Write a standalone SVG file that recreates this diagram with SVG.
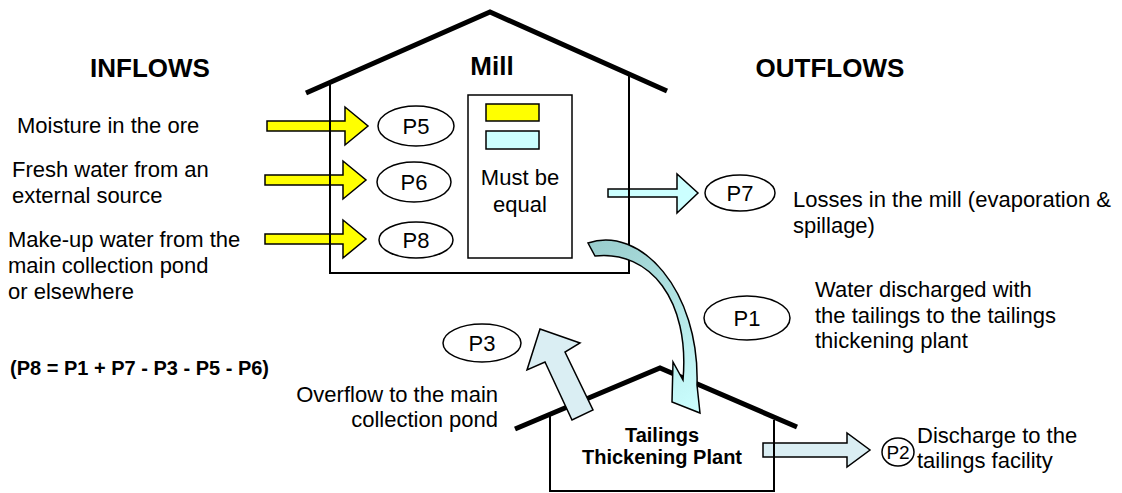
<svg xmlns="http://www.w3.org/2000/svg" width="1122" height="493" viewBox="0 0 1122 493">
  <style>
    text { font-family: "Liberation Sans", Arial, sans-serif; fill: #000; }
    .body { font-size: 22px; }
    .head { font-size: 26px; font-weight: bold; }
    .bold20 { font-size: 20px; font-weight: bold; }
    .mid { text-anchor: middle; }
    .end { text-anchor: end; }
    .roof { fill: none; stroke: #000; stroke-width: 5; stroke-linecap: butt; }
    .wall { fill: none; stroke: #000; stroke-width: 2; }
    .tag { fill: #fff; stroke: #000; stroke-width: 1.5; }
    .inflow { fill: #ffff00; stroke: #000; stroke-width: 1.5; stroke-linejoin: miter; }
    .loss { fill: #ccffff; stroke: #000; stroke-width: 1.5; }
    .pale { fill: #daeef3; stroke: #000; stroke-width: 1.5; }
  </style>
  <defs>
    <linearGradient id="curveFill" x1="588" y1="243" x2="700" y2="413" gradientUnits="userSpaceOnUse">
      <stop offset="0" stop-color="#99cccc"/>
      <stop offset="1" stop-color="#ccffff"/>
    </linearGradient>
  </defs>

  <rect width="1122" height="493" fill="#fff"/>

  <!-- headings -->
  <text class="head mid" x="150" y="77">INFLOWS</text>
  <text class="head mid" x="830" y="77">OUTFLOWS</text>

  <!-- connectors: flow arrows -->
  <g id="connectors">
    <!-- inflow arrows into the mill -->
    <polygon class="inflow" points="267,121 345,121 345,107 368,126 345,145 345,131 267,131"/>
    <polygon class="inflow" points="265,175 343,175 343,161 366,180 343,199 343,185 265,185"/>
    <polygon class="inflow" points="265,234 343,234 343,220 366,239 343,258 343,244 265,244"/>
    <!-- mill losses -->
    <polygon class="loss" points="608,189 677,189 677,174 698,193 677,213 677,197 608,197"/>
    <!-- discharge from thickening plant -->
    <polygon class="pale" points="763,443 847,443 847,433 870,450 847,467 847,457 763,457"/>
  </g>

  <!-- Mill building -->
  <g id="mill">
    <polyline class="roof" points="306,93 490,12 667,91"/>
    <polyline class="wall" points="330,82 330,273 629,273 629,74"/>
    <text class="head mid" x="492" y="75">Mill</text>
  </g>

  <!-- balance box -->
  <g id="balance">
    <rect x="468" y="95" width="104" height="163" fill="#fff" stroke="#000" stroke-width="1.5"/>
    <rect x="486" y="104" width="53" height="17" fill="#ffff00" stroke="#000" stroke-width="1.5"/>
    <rect x="486" y="131" width="53" height="18" fill="#ccffff" stroke="#000" stroke-width="1.5"/>
    <text class="body mid" x="520" y="185">Must be</text>
    <text class="body mid" x="520" y="212">equal</text>
  </g>

  <!-- Tailings thickening plant -->
  <g id="thickener">
    <polyline class="roof" points="515,429 660,368 797,427"/>
    <polyline class="wall" points="550,414 550,491 774,491 774,420"/>
    <text class="bold20 mid" x="662" y="442">Tailings</text>
    <text class="bold20 mid" x="662" y="464">Thickening Plant</text>
  </g>

  <!-- arrows crossing the thickener roof -->
  <g id="connectors-over">
    <path d="M588,243 C640,225 700,290 697,385 L700,413 L672,402 L673,362 L683,380 C690,300 650,250 595,256 Z" fill="url(#curveFill)" stroke="#000" stroke-width="1.5" stroke-linejoin="miter"/>
    <polygon class="pale" points="540,329 580,343 565,352 593,410 572,420 545,362 527,370"/>
  </g>

  <!-- flow tags -->
  <g id="p5"><ellipse class="tag" cx="416" cy="126" rx="38" ry="20"/><text class="body mid" x="416" y="134">P5</text></g>
  <g id="p6"><ellipse class="tag" cx="414" cy="182" rx="37" ry="20"/><text class="body mid" x="414" y="190">P6</text></g>
  <g id="p8"><ellipse class="tag" cx="416" cy="240" rx="37" ry="18"/><text class="body mid" x="416" y="248">P8</text></g>
  <g id="p7"><ellipse class="tag" cx="740" cy="193" rx="35" ry="18"/><text class="body mid" x="740" y="201">P7</text></g>
  <g id="p1"><ellipse class="tag" cx="747" cy="318" rx="43" ry="22"/><text class="body mid" x="747" y="326">P1</text></g>
  <g id="p3"><ellipse class="tag" cx="482" cy="343" rx="39" ry="19"/><text class="body mid" x="482" y="351">P3</text></g>
  <g id="p2"><ellipse class="tag" cx="898" cy="452" rx="16" ry="14"/><text class="mid" x="898" y="459" font-size="19">P2</text></g>

  <!-- inflow labels -->
  <g id="inflow-labels">
    <text class="body" x="17" y="133">Moisture in the ore</text>
    <text class="body" x="12" y="177">Fresh water from an</text>
    <text class="body" x="12" y="203">external source</text>
    <text class="body" x="8" y="247">Make-up water from the</text>
    <text class="body" x="8" y="273">main collection pond</text>
    <text class="body" x="8" y="299">or elsewhere</text>
    <text class="bold20" x="10" y="375">(P8 = P1 + P7 - P3 - P5 - P6)</text>
  </g>

  <!-- outflow labels -->
  <g id="outflow-labels">
    <text class="body" x="793" y="207">Losses in the mill (evaporation &amp;</text>
    <text class="body" x="793" y="233">spillage)</text>
    <text class="body" x="815" y="297">Water discharged with</text>
    <text class="body" x="815" y="323">the tailings to the tailings</text>
    <text class="body" x="815" y="348">thickening plant</text>
    <text class="body end" x="498" y="402">Overflow to the main</text>
    <text class="body end" x="498" y="427">collection pond</text>
    <text class="body" x="917" y="443">Discharge to the</text>
    <text class="body" x="917" y="468">tailings facility</text>
  </g>
</svg>
